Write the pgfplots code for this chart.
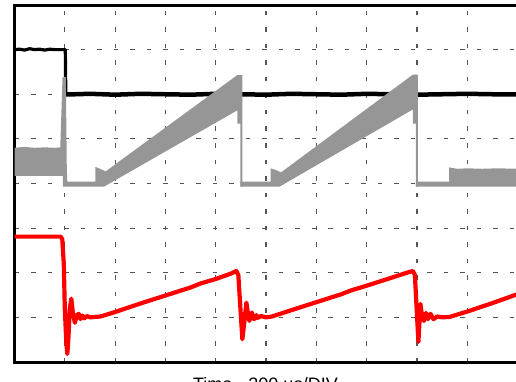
\documentclass[border=0pt]{standalone}
\usepackage{pgfplots}
\pgfplotsset{compat=1.18}
\usepackage{fontspec}
\setmainfont{Liberation Sans}
\definecolor{trgray}{RGB}{150,150,150}
\definecolor{gridc}{RGB}{85,85,85}
\begin{document}
\begin{tikzpicture}
\path[use as bounding box] (0pt,0pt) rectangle (516pt,381pt);
\begin{axis}[at={(14.5pt,19pt)}, anchor=south west, scale only axis,
  width=503pt, height=357pt,
  xmin=0, xmax=10, ymin=0, ymax=8,
  xtick={1,...,9}, ytick={1,...,7},
  xticklabels={}, yticklabels={},
  major tick length=0pt,
  grid=major,
  grid style={gridc, line width=1.2pt, dash pattern=on 4.5pt off 12pt},
  axis line style={line width=3pt},
  clip=true]
% black trace
\addplot[black, line width=3.2pt, line join=round] coordinates {
(0,7.0)(0.1,7.01)(0.2,6.99)(0.3,7.02)(0.4,7.0)(0.5,7.01)(0.6,6.99)(0.7,7.01)(0.8,7.0)(0.9,7.0)(1.01,7.0)
(1.02,6.0)};
\addplot[black, line width=4.5pt, line join=round] coordinates {
(1.02,6.0)(1.2,6.0)(1.5,6.01)(2,5.99)(2.5,6.01)(3,6.0)(3.5,5.99)(4,6.01)(4.5,6.0)(5,5.99)(5.5,6.01)
(6,6.0)(6.5,5.99)(7,6.01)(7.5,6.0)(8,5.99)(8.5,6.0)(9,6.01)(9.5,6.0)(10,6.0)};
% gray trace, cycle 1
\addplot[draw=none, fill=trgray] coordinates {
(0,4.80)(0.2,4.82)(0.4,4.80)(0.6,4.81)(0.8,4.80)(0.91,4.81)(0.955,6.39)(1.02,6.39)(1.04,4.30)(1.05,4.04)
(1.61,4.04)(1.61,4.37)(1.70,4.33)(1.81,4.27)(4.43,6.43)(4.53,6.43)(4.53,3.93)
(4.49,3.93)(4.49,5.34)(4.43,5.34)(4.43,5.64)(1.78,3.93)(0.96,3.93)(0.96,4.17)(0,4.17)};
% gray trace, cycle 2
\addplot[draw=none, fill=trgray] coordinates {
(4.49,4.04)(5.09,4.04)(5.09,4.34)(5.18,4.31)(5.30,4.25)(7.92,6.44)(8.02,6.44)(8.02,3.93)
(7.98,3.93)(7.98,5.34)(7.92,5.34)(7.92,5.66)(5.27,3.93)(4.49,3.93)};
% gray trace, end
\addplot[draw=none, fill=trgray] coordinates {
(7.98,3.93)(7.98,4.04)(8.64,4.04)(8.64,4.36)(8.8,4.33)(9.0,4.34)(9.3,4.33)(9.6,4.34)(10,4.33)(10,3.93)};
% red trace
\addplot[red, line width=4.2pt, line join=round] coordinates {
(0,2.81)(0.3,2.81)(0.6,2.81)(0.92,2.81)(0.95,2.75)(0.98,2.2)(1.0,1.2)(1.03,0.45)(1.05,0.18)(1.07,0.5)
(1.10,1.2)(1.13,1.42)(1.16,1.1)(1.20,0.88)(1.24,1.05)(1.28,1.08)(1.31,0.96)(1.35,1.04)(1.39,0.98)(1.44,1.03)
(1.5,1.0)(1.6,1.01)(1.71,1.02)(2.0,1.12)(2.5,1.31)(3.0,1.49)(3.5,1.67)(3.7,1.76)(4.0,1.86)(4.30,1.98)(4.41,2.04)
(4.45,1.95)(4.48,1.4)(4.53,0.51)(4.57,0.9)(4.61,1.33)(4.64,1.1)(4.67,0.92)(4.70,1.05)(4.72,1.11)(4.75,0.97)
(4.78,0.96)(4.81,1.05)(4.84,0.99)(4.9,1.03)(5.0,1.0)(5.12,1.02)(5.5,1.16)(6.0,1.34)(6.5,1.52)(6.68,1.60)
(7.0,1.71)(7.5,1.89)(7.8,2.0)(7.92,2.04)(7.96,1.95)(7.99,1.3)(8.03,0.45)(8.07,1.30)(8.10,1.05)(8.14,0.92)
(8.18,1.10)(8.22,0.96)(8.27,1.08)(8.33,0.96)(8.40,1.02)(8.5,1.0)(8.65,1.01)(9.0,1.13)(9.5,1.32)(10,1.52)};
\end{axis}
\node[anchor=base, font=\fontsize{18}{20}\selectfont] at (265.5pt,-9.6pt) {Time - 200 µs/DIV};
\end{tikzpicture}
\end{document}
